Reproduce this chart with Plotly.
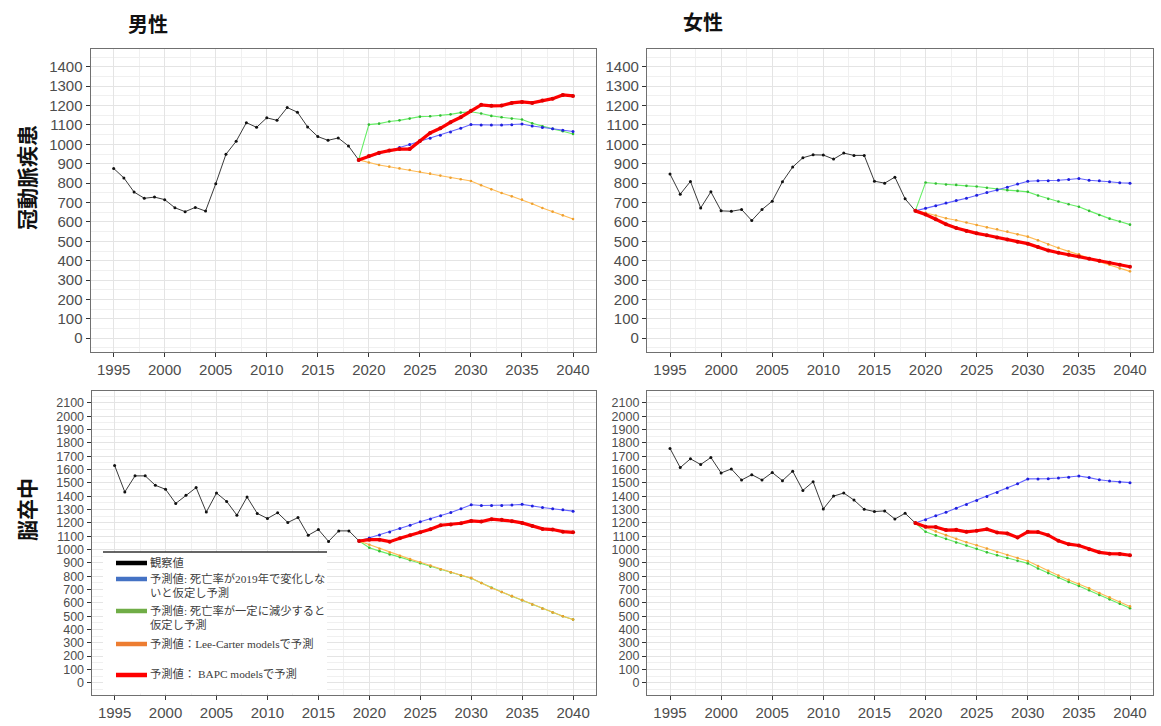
import plotly.graph_objects as go

# ---------------- data ----------------
years_obs = list(range(1995, 2020))
years_proj = list(range(2019, 2041))

# 男性 冠動脈疾患
m_chd_obs = [876, 827, 754, 722, 728, 715, 673, 653, 675, 656, 797, 949, 1016, 1112, 1088,
             1137, 1124, 1190, 1166, 1090, 1040, 1021, 1033, 992, 920]
m_chd_const = [920, 937, 953, 968, 984, 999, 1016, 1031, 1047, 1064, 1083, 1102, 1100, 1100,
               1100, 1101, 1105, 1095, 1087, 1080, 1073, 1066]
m_chd_dec = [920, 1102, 1107, 1118, 1124, 1133, 1143, 1145, 1149, 1155, 1164, 1168, 1159, 1147,
             1140, 1133, 1128, 1109, 1093, 1080, 1068, 1054]
m_chd_lc = [920, 906, 894, 885, 876, 868, 859, 849, 839, 828, 820, 811, 789, 768, 749, 732, 715,
            694, 672, 653, 634, 615]
m_chd_bapc = [920, 940, 957, 968, 976, 976, 1018, 1059, 1083, 1114, 1140, 1174, 1204, 1199, 1200,
              1214, 1219, 1214, 1226, 1236, 1255, 1250]

# 女性 冠動脈疾患
f_chd_obs = [847, 743, 809, 672, 755, 657, 655, 664, 607, 664, 707, 807, 883, 931, 946, 945, 924,
             955, 943, 943, 810, 800, 831, 719, 657]
f_chd_const = [657, 671, 684, 697, 710, 722, 738, 752, 765, 779, 795, 810, 812, 812, 815, 819, 824,
               815, 812, 807, 802, 800]
f_chd_dec = [657, 803, 798, 793, 791, 786, 783, 776, 769, 764, 760, 755, 736, 719, 705, 691, 678,
             657, 636, 617, 602, 586]
f_chd_lc = [657, 647, 633, 619, 609, 597, 584, 572, 562, 550, 536, 524, 505, 484, 466, 448, 433,
            414, 395, 379, 360, 345]
f_chd_bapc = [657, 638, 614, 588, 569, 553, 541, 531, 519, 509, 498, 488, 471, 453, 441, 431, 421,
              410, 400, 390, 379, 369]

# 男性 脳卒中
m_st_obs = [1631, 1432, 1553, 1553, 1482, 1452, 1346, 1407, 1465, 1281, 1424, 1361, 1258, 1394,
            1271, 1233, 1276, 1203, 1240, 1107, 1150, 1061, 1140, 1140, 1064]
m_st_const = [1064, 1087, 1109, 1132, 1157, 1182, 1208, 1230, 1253, 1278, 1306, 1336, 1331, 1331,
              1331, 1334, 1339, 1326, 1316, 1306, 1298, 1288]
m_st_dec = [1064, 1013, 988, 963, 943, 920, 897, 872, 850, 827, 804, 784, 749, 713, 681, 650, 620,
            587, 557, 527, 499, 474]
m_st_lc = [1064, 1036, 1006, 978, 953, 928, 905, 880, 852, 829, 807, 787, 749, 711, 681, 650, 620,
           587, 555, 527, 499, 474]
m_st_bapc = [1064, 1074, 1074, 1059, 1084, 1107, 1129, 1152, 1182, 1187, 1197, 1215, 1210, 1228,
             1223, 1213, 1200, 1177, 1155, 1150, 1134, 1129]

# 女性 脳卒中
f_st_obs = [1759, 1615, 1681, 1638, 1691, 1575, 1605, 1522, 1562, 1522, 1578, 1517, 1588, 1444,
            1509, 1305, 1401, 1424, 1371, 1302, 1285, 1290, 1229, 1272, 1199]
f_st_const = [1199, 1224, 1254, 1280, 1310, 1338, 1368, 1398, 1429, 1461, 1494, 1530, 1530, 1532,
              1537, 1542, 1552, 1540, 1524, 1514, 1507, 1502]
f_st_dec = [1199, 1133, 1106, 1080, 1053, 1030, 1005, 979, 957, 936, 916, 896, 858, 823, 790, 757,
            727, 694, 659, 626, 593, 560]
f_st_lc = [1199, 1166, 1136, 1108, 1080, 1055, 1032, 1007, 982, 959, 936, 914, 876, 840, 805, 772,
           742, 709, 674, 641, 608, 573]
f_st_bapc = [1199, 1171, 1169, 1146, 1148, 1133, 1141, 1153, 1128, 1121, 1090, 1133, 1131, 1108,
             1065, 1040, 1030, 1002, 979, 969, 967, 957]

col_titles = ["男性", "女性"]
row_titles = ["冠動脈疾患", "脳卒中"]
legend_labels = [
    ["観察値"],
    ["予測値: 死亡率が2019年で変化しな", "いと仮定し予測"],
    ["予測値: 死亡率が一定に減少すると", "仮定し予測"],
    ["予測値：Lee-Carter modelsで予測"],
    ["予測値： BAPC modelsで予測"],
]
legend_colors = ["#000000", "#4472C4", "#70AD47", "#ED7D31", "#FF0000"]

panels = [
    (m_chd_obs, m_chd_const, m_chd_dec, m_chd_lc, m_chd_bapc),
    (f_chd_obs, f_chd_const, f_chd_dec, f_chd_lc, f_chd_bapc),
    (m_st_obs, m_st_const, m_st_dec, m_st_lc, m_st_bapc),
    (f_st_obs, f_st_const, f_st_dec, f_st_lc, f_st_bapc),
]

# ---------------- layout helpers ----------------
W, H = 1161, 726


def px_x(x):
    return x / W


def py_y(y):
    return 1 - y / H


# panel boxes in pixels: (left, right, top, bottom)
boxes = [
    (90.7, 596, 49, 352),
    (647, 1153, 49, 352),
    (91.7, 596, 391, 695),
    (647, 1153, 391, 695),
]
yranges = [[-71, 1492], [-71, 1492], [-92, 2190], [-92, 2190]]

fig = go.Figure()

series_style = [
    # (line color, marker color, width, marker size)
    ("#3a3a3a", "#111111", 1.0, 3),    # observed
    ("#6464ff", "#2020dd", 1.1, 3),    # const (blue)
    ("#66ee66", "#33bb33", 1.1, 2.6),  # decrease (green)
    ("#ffbb55", "#eea030", 1.1, 2.6),  # Lee-Carter (orange)
    ("#ff0000", "#e00000", 3.2, 4),    # BAPC (red)
]

for i, data in enumerate(panels):
    xa = "x" if i == 0 else f"x{i + 1}"
    ya = "y" if i == 0 else f"y{i + 1}"
    obs, const, dec, lc, bapc = data
    fig.add_trace(go.Scatter(x=years_obs, y=obs, xaxis=xa, yaxis=ya, mode="lines+markers",
                             line=dict(color=series_style[0][0], width=series_style[0][2]),
                             marker=dict(color=series_style[0][1], size=series_style[0][3]),
                             showlegend=False, hoverinfo="skip"))
    for k, vals in [(2, dec), (1, const), (3, lc), (4, bapc)]:
        lc_, mc_, w_, ms_ = series_style[k]
        fig.add_trace(go.Scatter(x=years_proj, y=vals, xaxis=xa, yaxis=ya, mode="lines+markers",
                                 line=dict(color=lc_, width=w_),
                                 marker=dict(color=mc_, size=ms_),
                                 showlegend=False, hoverinfo="skip"))

axis_font = dict(family="Liberation Sans, Arial, sans-serif", size=15, color="#4D4D4D")
layout = dict(
    width=W, height=H, margin=dict(l=0, r=0, t=0, b=0),
    paper_bgcolor="white", plot_bgcolor="white", showlegend=False,
)
for i, (l, r, t, b) in enumerate(boxes):
    xk = "xaxis" if i == 0 else f"xaxis{i + 1}"
    yk = "yaxis" if i == 0 else f"yaxis{i + 1}"
    xa = "x" if i == 0 else f"x{i + 1}"
    ya = "y" if i == 0 else f"y{i + 1}"
    yfont = dict(axis_font)
    if i >= 2:
        yfont["size"] = 12.5
    layout[xk] = dict(
        domain=[px_x(l), px_x(r)], anchor=ya, range=[1992.75, 2042.25],
        tickmode="linear", tick0=1995, dtick=5, ticks="outside", ticklen=4,
        tickcolor="#333333", tickwidth=1, tickfont=axis_font,
        showgrid=True, gridcolor="#E4E4E4", gridwidth=1.3,
        minor=dict(dtick=2.5, tick0=1995, showgrid=True, gridcolor="#F0F0F0", gridwidth=0.9),
        showline=True, linecolor="#707070", linewidth=1.3, mirror=True, zeroline=False,
    )
    layout[yk] = dict(
        domain=[py_y(b), py_y(t)], anchor=xa, range=yranges[i],
        tickmode="linear", tick0=0, dtick=100, ticks="outside", ticklen=4,
        tickcolor="#333333", tickwidth=1, tickfont=yfont,
        showgrid=True, gridcolor="#E4E4E4", gridwidth=1.3,
        minor=dict(dtick=50, tick0=0, showgrid=True, gridcolor="#F0F0F0", gridwidth=0.9),
        showline=True, linecolor="#707070", linewidth=1.3, mirror=True, zeroline=False,
    )
fig.update_layout(**layout)

annotations = []
title_font = dict(family="Noto Sans CJK JP", size=20, color="#111111")
annotations.append(dict(text="<b>" + col_titles[0] + "</b>", x=px_x(148), y=py_y(23),
                        xref="paper", yref="paper", showarrow=False, font=title_font,
                        xanchor="center", yanchor="middle"))
annotations.append(dict(text="<b>" + col_titles[1] + "</b>", x=px_x(703), y=py_y(22),
                        xref="paper", yref="paper", showarrow=False, font=title_font,
                        xanchor="center", yanchor="middle"))
annotations.append(dict(text="<b>" + row_titles[0] + "</b>", x=px_x(26), y=py_y(178),
                        xref="paper", yref="paper", showarrow=False, font=dict(title_font, size=21),
                        textangle=-90, xanchor="center", yanchor="middle"))
annotations.append(dict(text="<b>" + row_titles[1] + "</b>", x=px_x(26), y=py_y(510),
                        xref="paper", yref="paper", showarrow=False, font=dict(title_font, size=21),
                        textangle=-90, xanchor="center", yanchor="middle"))

# ---- custom legend box in lower-left panel ----
shapes = []
shapes.append(dict(type="rect", xref="paper", yref="paper", x0=px_x(103), x1=px_x(327),
                   y0=py_y(693.5), y1=py_y(552), fillcolor="white", line=dict(width=0),
                   layer="above"))
shapes.append(dict(type="line", xref="paper", yref="paper", x0=px_x(103), x1=px_x(327),
                   y0=py_y(552), y1=py_y(552), line=dict(color="#333333", width=1.6),
                   layer="above"))
entry_y = [563, 579, 611, 644, 675]
line2_y = [None, 592, 624, None, None]
text_y = [562, 578, 610, 643, 673]
leg_font = dict(family="Liberation Serif, Noto Sans CJK JP", size=11.3, color="#404040")
for j, labels in enumerate(legend_labels):
    shapes.append(dict(type="line", xref="paper", yref="paper", x0=px_x(116), x1=px_x(147),
                       y0=py_y(entry_y[j]), y1=py_y(entry_y[j]),
                       line=dict(color=legend_colors[j], width=4.5), layer="above"))
    annotations.append(dict(text=labels[0], x=px_x(147.5), y=py_y(text_y[j]), xref="paper",
                            yref="paper", showarrow=False, font=leg_font, xanchor="left",
                            yanchor="middle"))
    if len(labels) > 1:
        annotations.append(dict(text=labels[1], x=px_x(147.5), y=py_y(line2_y[j]), xref="paper",
                                yref="paper", showarrow=False, font=leg_font, xanchor="left",
                                yanchor="middle"))

fig.update_layout(annotations=annotations, shapes=shapes)
fig.write_html("out.html")
